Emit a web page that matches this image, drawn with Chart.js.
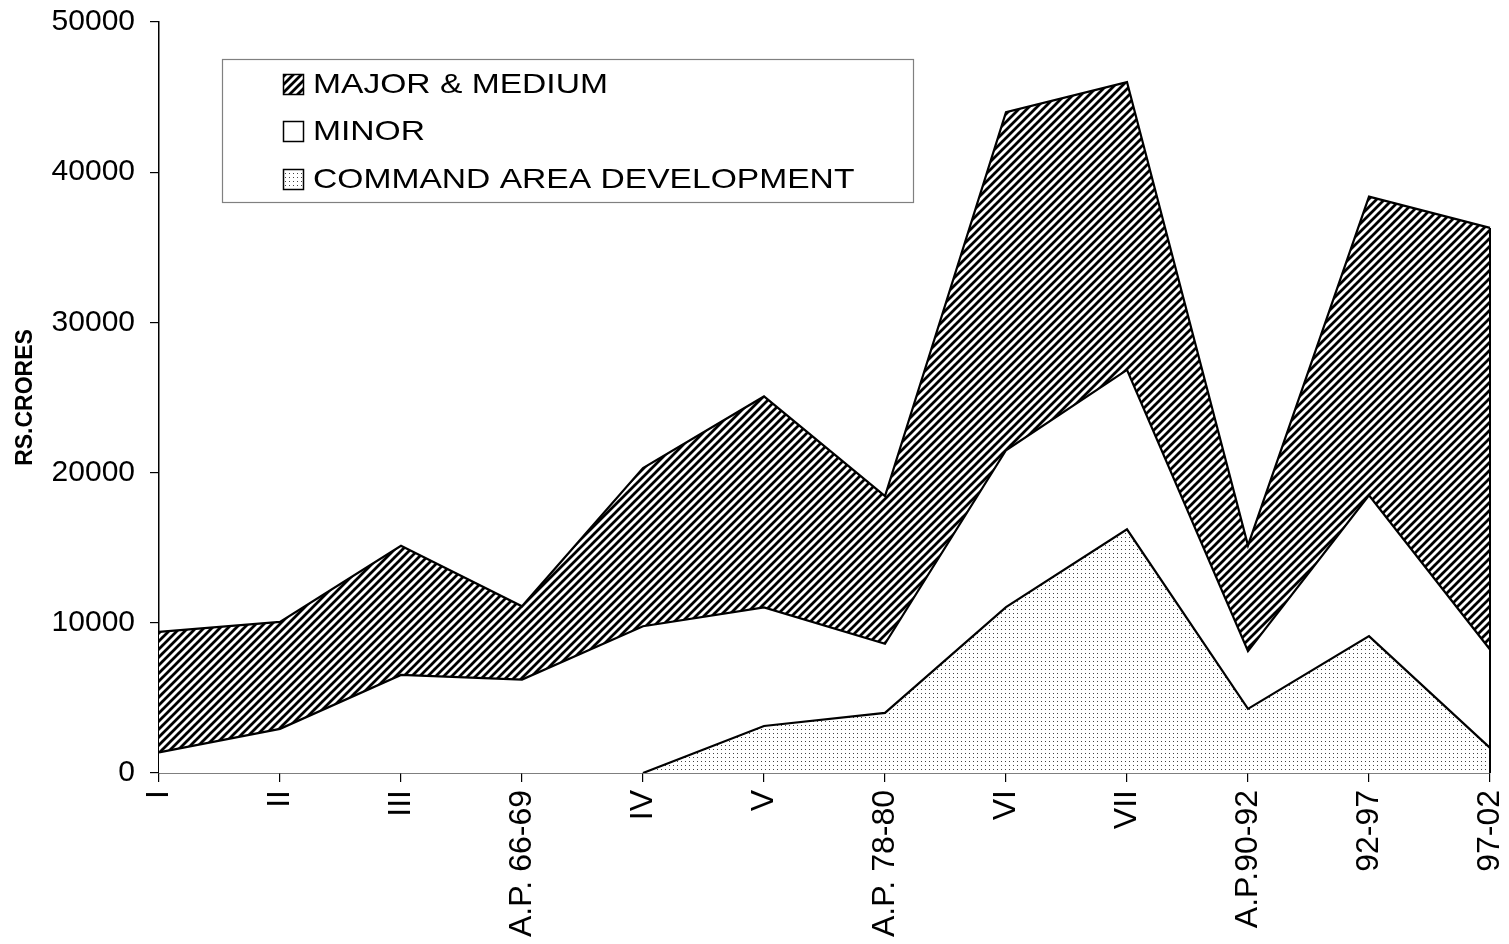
<!DOCTYPE html>
<html>
<head>
<meta charset="utf-8">
<script src="https://cdn.jsdelivr.net/npm/chart.js@4"></script>
<style>
html,body{margin:0;padding:0;background:#fff;}
#wrap{width:1509px;height:944px;}
</style>
</head>
<body>
<div id="wrap"><canvas id="c" width="1509" height="944"></canvas></div>
<script>
const categories = ['I','II','III','A.P. 66-69','IV','V','A.P. 78-80','VI','VII','A.P.90-92','92-97','97-02'];
const cadValues   = [0,0,0,0,0,3130,4000,11040,16220,4270,9110,1670];
const minorValues = [1370,2940,6530,6220,9770,7890,4600,10450,10620,3840,9380,6550];
const majorValues = [8030,7120,8600,4880,10530,14050,9840,22510,19160,7040,19880,28070];
const seriesLabels = ['COMMAND AREA DEVELOPMENT','MINOR','MAJOR & MEDIUM'];
const yTitle = 'RS.CRORES';

function makeHatch(){
  const s = 8, cv = document.createElement('canvas');
  cv.width = s; cv.height = s;
  const g = cv.getContext('2d');
  g.fillStyle = '#fff'; g.fillRect(0,0,s,s);
  g.strokeStyle = '#000'; g.lineWidth = 2.8;
  g.beginPath();
  g.moveTo(-2, s+2); g.lineTo(s+2, -2);
  g.moveTo(-2, 2); g.lineTo(2, -2);
  g.moveTo(s-2, s+2); g.lineTo(s+2, s-2);
  g.stroke();
  return g.createPattern(cv, 'repeat');
}
function makeDots(){
  const s = 4, cv = document.createElement('canvas');
  cv.width = s; cv.height = s;
  const g = cv.getContext('2d');
  g.fillStyle = '#fff'; g.fillRect(0,0,s,s);
  g.fillStyle = '#444'; g.fillRect(1,1,1,1);
  return g.createPattern(cv, 'repeat');
}
const hatch = makeHatch();
const dots = makeDots();

const edgePlugin = {
  id: 'edge',
  afterDatasetsDraw(chart){
    const ctx = chart.ctx, xs = chart.scales.x, ys = chart.scales.y;
    const last = categories.length - 1;
    const total = cadValues[last] + minorValues[last] + majorValues[last];
    const x = xs.getPixelForValue(last);
    ctx.save();
    ctx.strokeStyle = '#000'; ctx.lineWidth = 2;
    ctx.beginPath();
    ctx.moveTo(x, ys.getPixelForValue(0));
    ctx.lineTo(x, ys.getPixelForValue(total));
    ctx.stroke();
    ctx.restore();
  }
};

const legendPlugin = {
  id: 'boxLegend',
  afterDraw(chart){
    const ctx = chart.ctx;
    const bx = 222.5, by = 59.5, bw = 691, bh = 143;
    ctx.save();
    ctx.fillStyle = '#fff';
    ctx.fillRect(bx, by, bw, bh);
    ctx.strokeStyle = '#808080'; ctx.lineWidth = 1.2;
    ctx.strokeRect(bx, by, bw, bh);
    const ds = chart.data.datasets.slice().reverse();
    const rows = [84, 131, 179];
    ds.forEach((d, i) => {
      const cy = rows[i];
      ctx.fillStyle = d.backgroundColor;
      ctx.fillRect(283, cy - 10, 21, 21);
      ctx.strokeStyle = '#000'; ctx.lineWidth = 1.5;
      ctx.strokeRect(283.5, cy - 9.5, 20, 20);
      ctx.save();
      ctx.translate(313, cy);
      ctx.scale(1.2, 1);
      ctx.fillStyle = '#000';
      ctx.font = '28px "Liberation Sans", Arial, sans-serif';
      ctx.textBaseline = 'middle';
      ctx.textAlign = 'left';
      ctx.fillText(d.label, 0, 1);
      ctx.restore();
    });
    ctx.restore();
  }
};

const hideZeroSeg = ctx => (ctx.p0.parsed.y === 0 && ctx.p1.parsed.y === 0) ? 'rgba(0,0,0,0)' : '#000';

new Chart(document.getElementById('c'), {
  type: 'line',
  data: {
    labels: categories,
    datasets: [
      { label: seriesLabels[0], data: cadValues, backgroundColor: dots, borderColor: '#000', borderWidth: 2.2, fill: 'origin', pointRadius: 0, tension: 0, segment: { borderColor: hideZeroSeg } },
      { label: seriesLabels[1], data: minorValues, backgroundColor: '#ffffff', borderColor: '#000', borderWidth: 2.2, fill: '-1', pointRadius: 0, tension: 0 },
      { label: seriesLabels[2], data: majorValues, backgroundColor: hatch, borderColor: '#000', borderWidth: 2.2, fill: '-1', pointRadius: 0, tension: 0 }
    ]
  },
  options: {
    responsive: false,
    animation: false,
    devicePixelRatio: 1,
    layout: { padding: { left: 0, top: 22, right: 19, bottom: 0 } },
    plugins: { legend: { display: false }, tooltip: { enabled: false } },
    scales: {
      x: {
        offset: false,
        afterFit: s => { s.height = 171; s.paddingLeft = 0; s.paddingRight = 0; },
        grid: { display: true, drawOnChartArea: false, drawTicks: true, tickLength: 9, color: '#000', lineWidth: 1.2 },
        border: { display: true, color: '#000', width: 1.5 },
        ticks: { autoSkip: false, maxRotation: 90, minRotation: 90, padding: 8, color: '#000', font: { family: '"Liberation Sans", Arial, sans-serif', size: 32 } }
      },
      y: {
        stacked: true,
        min: 0, max: 50000,
        afterFit: s => { s.width = 159; s.paddingTop = 0; s.paddingBottom = 0; },
        grid: { display: true, drawOnChartArea: false, drawTicks: true, tickLength: 9, color: '#000', lineWidth: 1.2 },
        border: { display: true, color: '#000', width: 1.5 },
        ticks: { stepSize: 10000, padding: 15, color: '#000', font: { family: '"Liberation Sans", Arial, sans-serif', size: 30 }, callback: v => String(v) },
        title: { display: true, text: yTitle, color: '#000', padding: { top: 12, bottom: 0 }, font: { family: '"Liberation Sans", Arial, sans-serif', size: 23, weight: 'bold' } }
      }
    }
  },
  plugins: [edgePlugin, legendPlugin]
});
</script>
</body>
</html>
